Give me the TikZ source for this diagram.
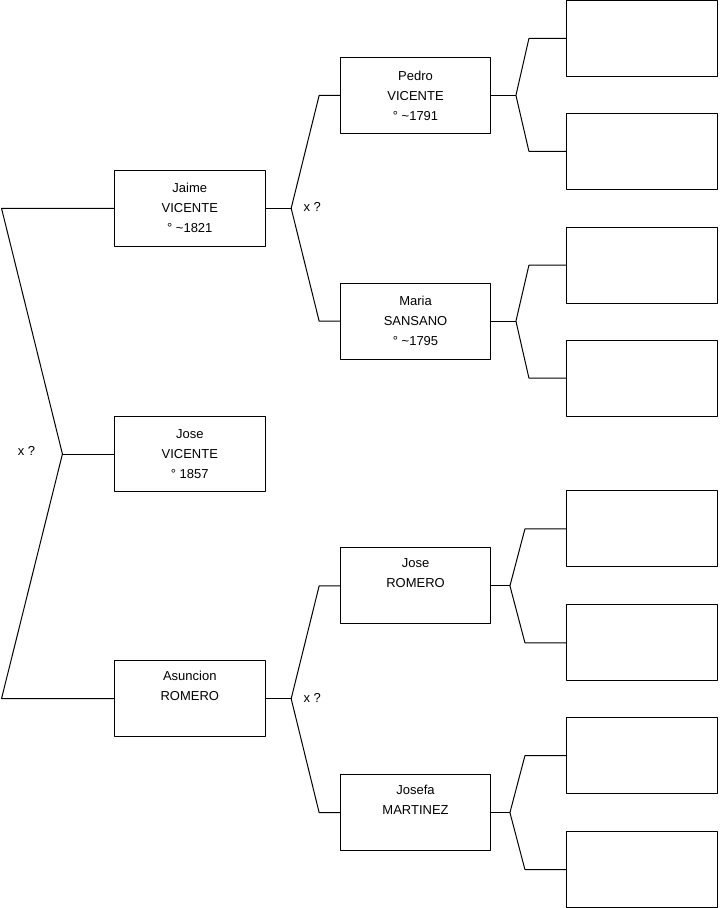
\documentclass[tikz,border=0pt]{standalone}
\usepackage{fontspec}
\setmainfont{Liberation Sans}
\newcommand{\ca}{\textasciitilde}

\begin{document}
\begin{tikzpicture}[x=1pt,y=-1pt,line width=1pt,line join=bevel,
  every node/.style={inner sep=0pt,outer sep=0pt},
  person/.style={draw,minimum width=151pt,minimum height=76pt,align=center,
    font=\fontsize{13pt}{20pt}\selectfont},
  mark label/.style={font=\fontsize{13pt}{15pt}\selectfont}]
  \path[use as bounding box] (-0.5,-0.5) rectangle (719.5,908.5);  % 源画布 719×908px
  % ---- 第 1 代 ----
  \node[person] (jaime)    at (189.5,208) {Jaime\\VICENTE\\° \ca1821};
  \node[person] (jose)     at (189.5,454) {Jose\\VICENTE\\° 1857};
  \node[person] (asuncion) at (189.5,699) {Asuncion\\ROMERO\\\strut};
  % ---- 第 2 代 ----
  \node[person] (pedro)    at (415.5, 95) {Pedro\\VICENTE\\° \ca1791};
  \node[person] (maria)    at (415.5,321) {Maria\\SANSANO\\° \ca1795};
  \node[person] (joser)    at (415.5,586) {Jose\\ROMERO\\\strut};
  \node[person] (josefa)   at (415.5,813) {Josefa\\MARTINEZ\\\strut};
  % ---- 第 3 代：空框 ----
  \foreach \n/\y in {1/38,2/151,3/265,4/378,5/529,6/643,7/756,8/870}
    \node[person] (p\n) at (642.5,\y) {};
  % ---- 分叉点 ----
  \coordinate (f0)  at ( 62,454);  \coordinate (f0a) at (  1,208);  \coordinate (f0b) at (  1,699);
  \coordinate (f1)  at (291,208);  \coordinate (f1a) at (319, 95);  \coordinate (f1b) at (319,321);
  \coordinate (f2)  at (291,699);  \coordinate (f2a) at (319,586);  \coordinate (f2b) at (319,813);
  \coordinate (f3)  at (516, 95);  \coordinate (f3a) at (529, 38);  \coordinate (f3b) at (529,151);
  \coordinate (f4)  at (516,321);  \coordinate (f4a) at (529,265);  \coordinate (f4b) at (529,378);
  \coordinate (f5)  at (510,586);  \coordinate (f5a) at (525,529);  \coordinate (f5b) at (525,643);
  \coordinate (f6)  at (510,813);  \coordinate (f6a) at (525,756);  \coordinate (f6b) at (525,870);
  % ---- 连线 ----
  \draw (jose.west) -- (f0);
  \draw (jaime.west) -- (f0a) -- (f0) -- (f0b) -- (asuncion.west);
  \draw (jaime.east) -- (f1);
  \draw (pedro.west) -- (f1a) -- (f1) -- (f1b) -- (maria.west);
  \draw (asuncion.east) -- (f2);
  \draw (joser.west) -- (f2a) -- (f2) -- (f2b) -- (josefa.west);
  \draw (pedro.east) -- (f3);
  \draw (p1.west) -- (f3a) -- (f3) -- (f3b) -- (p2.west);
  \draw (maria.east) -- (f4);
  \draw (p3.west) -- (f4a) -- (f4) -- (f4b) -- (p4.west);
  \draw (joser.east) -- (f5);
  \draw (p5.west) -- (f5a) -- (f5) -- (f5b) -- (p6.west);
  \draw (josefa.east) -- (f6);
  \draw (p7.west) -- (f6a) -- (f6) -- (f6b) -- (p8.west);
  % ---- 婚姻标注 ----
  \node[mark label] (m0) at ( 26,451) {x ?};
  \node[mark label] (m1) at (312,207) {x ?};
  \node[mark label] (m2) at (312,698) {x ?};
\end{tikzpicture}
\end{document}
